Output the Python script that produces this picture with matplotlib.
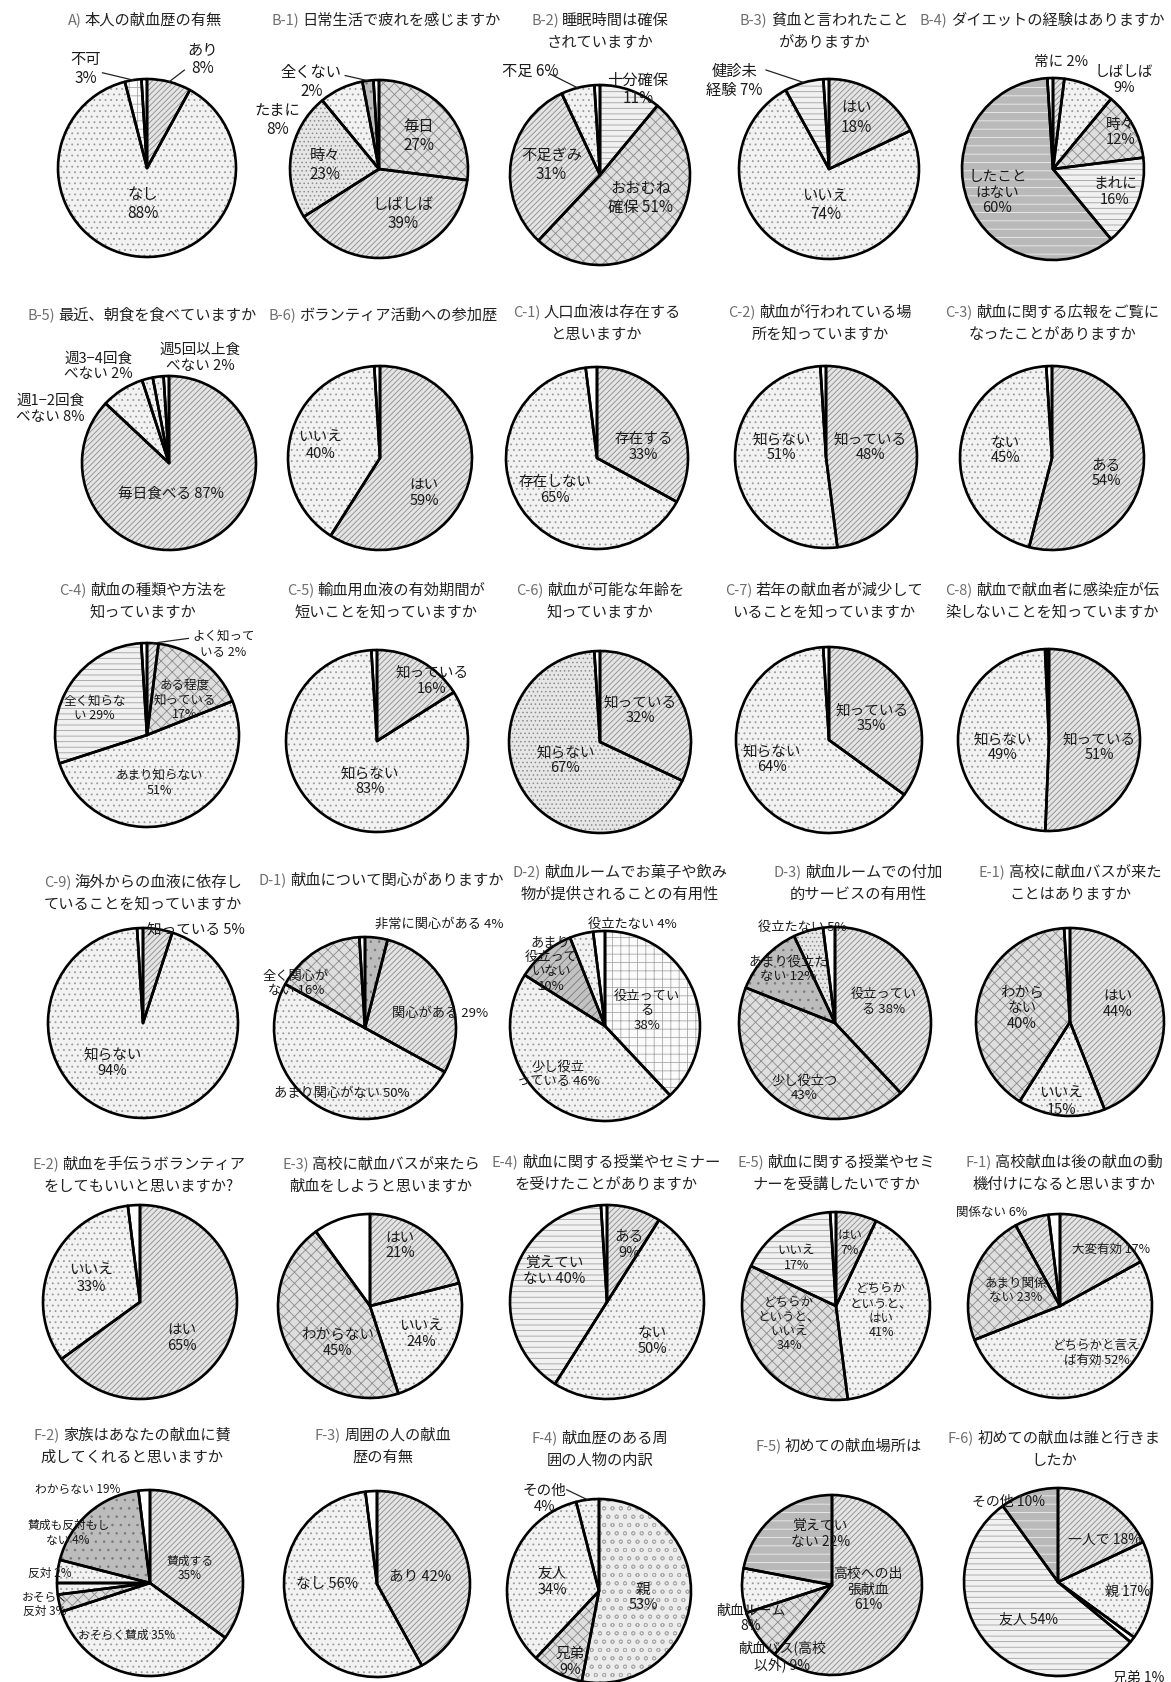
import matplotlib
matplotlib.use("Agg")
import matplotlib.pyplot as plt
import numpy as np

plt.rcParams["font.family"] = ["Noto Sans CJK JP", "DejaVu Sans"]
plt.rcParams["hatch.linewidth"] = 0.6

W, H = 1171, 1682
DPI = 100

# ---------------- data (clockwise from 12 o'clock) ----------------
a_title = "A) 本人の献血歴の有無"
a_names = ["あり\n{}%", "なし\n{}%", "不可\n{}%", ""]
a_values = [8, 88, 3, 1]

b1_title = "B-1) 日常生活で疲れを感じますか"
b1_names = ["毎日\n{}%", "しばしば\n{}%", "時々\n{}%", "たまに\n{}%", "全くない\n{}%", ""]
b1_values = [27, 39, 23, 8, 2, 1]

b2_title = "B-2) 睡眠時間は確保\nされていますか"
b2_names = ["十分確保\n{}%", "おおむね\n確保 {}%", "不足ぎみ\n{}%", "不足 {}%", ""]
b2_values = [11, 51, 31, 6, 1]

b3_title = "B-3) 貧血と言われたこと\nがありますか"
b3_names = ["はい\n{}%", "いいえ\n{}%", "健診未\n経験 {}%", ""]
b3_values = [18, 74, 7, 1]

b4_title = "B-4) ダイエットの経験はありますか"
b4_names = ["常に {}%", "しばしば\n{}%", "時々\n{}%", "まれに\n{}%", "したこと\nはない\n{}%", ""]
b4_values = [2, 9, 12, 16, 60, 1]

b5_title = "B-5) 最近、朝食を食べていますか"
b5_names = ["毎日食べる {}%", "週1−2回食\nべない {}%", "週3−4回食\nべない {}%", "週5回以上食\nべない {}%", ""]
b5_values = [87, 8, 2, 2, 1]

b6_title = "B-6) ボランティア活動への参加歴"
b6_names = ["はい\n{}%", "いいえ\n{}%", ""]
b6_values = [59, 40, 1]

c1_title = "C-1) 人口血液は存在する\nと思いますか"
c1_names = ["存在する\n{}%", "存在しない\n{}%", ""]
c1_values = [33, 65, 2]

c2_title = "C-2) 献血が行われている場\n所を知っていますか"
c2_names = ["知っている\n{}%", "知らない\n{}%", ""]
c2_values = [48, 51, 1]

c3_title = "C-3) 献血に関する広報をご覧に\nなったことがありますか"
c3_names = ["ある\n{}%", "ない\n{}%", ""]
c3_values = [54, 45, 1]

c4_title = "C-4) 献血の種類や方法を\n知っていますか"
c4_names = ["よく知って\nいる {}%", "ある程度\n知っている\n{}%", "あまり知らない\n{}%", "全く知らな\nい {}%", ""]
c4_values = [2, 17, 51, 29, 1]

c5_title = "C-5) 輸血用血液の有効期間が\n短いことを知っていますか"
c5_names = ["知っている\n{}%", "知らない\n{}%", ""]
c5_values = [16, 83, 1]

c6_title = "C-6) 献血が可能な年齢を\n知っていますか"
c6_names = ["知っている\n{}%", "知らない\n{}%", ""]
c6_values = [32, 67, 1]

c7_title = "C-7) 若年の献血者が減少して\nいることを知っていますか"
c7_names = ["知っている\n{}%", "知らない\n{}%", ""]
c7_values = [35, 64, 1]

c8_title = "C-8) 献血で献血者に感染症が伝\n染しないことを知っていますか"
c8_names = ["知っている\n{}%", "知らない\n{}%", ""]
c8_values = [51, 49, 0.7]

c9_title = "C-9) 海外からの血液に依存し\nていることを知っていますか"
c9_names = ["知っている {}%", "知らない\n{}%", ""]
c9_values = [5, 94, 1]

d1_title = "D-1) 献血について関心がありますか"
d1_names = ["非常に関心がある {}%", "関心がある {}%", "あまり関心がない {}%", "全く関心が\nない {}%", ""]
d1_values = [4, 29, 50, 16, 1]

d2_title = "D-2) 献血ルームでお菓子や飲み\n物が提供されることの有用性"
d2_names = ["役立ってい\nる\n{}%", "少し役立\nっている {}%", "あまり\n役立って\nいない\n{}%", "役立たない {}%", ""]
d2_values = [38, 46, 10, 4, 2]

d3_title = "D-3) 献血ルームでの付加\n的サービスの有用性"
d3_names = ["役立ってい\nる {}%", "少し役立つ\n{}%", "あまり役立た\nない {}%", "役立たない {}%", ""]
d3_values = [38, 43, 12, 5, 2]

e1_title = "E-1) 高校に献血バスが来た\nことはありますか"
e1_names = ["はい\n{}%", "いいえ\n{}%", "わから\nない\n{}%", ""]
e1_values = [44, 15, 40, 1]

e2_title = "E-2) 献血を手伝うボランティア\nをしてもいいと思いますか?"
e2_names = ["はい\n{}%", "いいえ\n{}%", ""]
e2_values = [65, 33, 2]

e3_title = "E-3) 高校に献血バスが来たら\n献血をしようと思いますか"
e3_names = ["はい\n{}%", "いいえ\n{}%", "わからない\n{}%", ""]
e3_values = [21, 24, 45, 10]

e4_title = "E-4) 献血に関する授業やセミナー\nを受けたことがありますか"
e4_names = ["ある\n{}%", "ない\n{}%", "覚えてい\nない {}%", ""]
e4_values = [9, 50, 40, 1]

e5_title = "E-5) 献血に関する授業やセミ\nナーを受講したいですか"
e5_names = ["はい\n{}%", "どちらか\nというと、\nはい\n{}%", "どちらか\nというと、\nいいえ\n{}%", "いいえ\n{}%", ""]
e5_values = [7, 41, 34, 17, 1]

f1_title = "F-1) 高校献血は後の献血の動\n機付けになると思いますか"
f1_names = ["大変有効 {}%", "どちらかと言え\nば有効 {}%", "あまり関係\nない {}%", "関係ない {}%", ""]
f1_values = [17, 52, 23, 6, 2]

f2_title = "F-2) 家族はあなたの献血に賛\n成してくれると思いますか"
f2_names = ["賛成する\n{}%", "おそらく賛成 {}%", "おそらく\n反対 {}%", "反対 {}%", "賛成も反対もし\nない {}%", "わからない {}%", ""]
f2_values = [35, 35, 3, 2, 4, 19, 2]

f3_title = "F-3) 周囲の人の献血\n歴の有無"
f3_names = ["あり {}%", "なし {}%", ""]
f3_values = [42, 56, 2]

f4_title = "F-4) 献血歴のある周\n囲の人物の内訳"
f4_names = ["親\n{}%", "兄弟\n{}%", "友人\n{}%", "その他\n{}%"]
f4_values = [53, 9, 34, 4]

f5_title = "F-5) 初めての献血場所は"
f5_names = ["高校への出\n張献血\n{}%", "献血バス(高校\n以外) {}%", "献血ルーム\n{}%", "覚えてい\nない {}%"]
f5_values = [61, 9, 8, 22]

f6_title = "F-6) 初めての献血は誰と行きま\nしたか"
f6_names = ["一人で {}%", "親 {}%", "兄弟 {}%", "友人 {}%", "その他 {}%"]
f6_values = [18, 17, 1, 54, 10]

charts = [
    (a_title, a_names, a_values), (b1_title, b1_names, b1_values),
    (b2_title, b2_names, b2_values), (b3_title, b3_names, b3_values),
    (b4_title, b4_names, b4_values), (b5_title, b5_names, b5_values),
    (b6_title, b6_names, b6_values), (c1_title, c1_names, c1_values),
    (c2_title, c2_names, c2_values), (c3_title, c3_names, c3_values),
    (c4_title, c4_names, c4_values), (c5_title, c5_names, c5_values),
    (c6_title, c6_names, c6_values), (c7_title, c7_names, c7_values),
    (c8_title, c8_names, c8_values), (c9_title, c9_names, c9_values),
    (d1_title, d1_names, d1_values), (d2_title, d2_names, d2_values),
    (d3_title, d3_names, d3_values), (e1_title, e1_names, e1_values),
    (e2_title, e2_names, e2_values), (e3_title, e3_names, e3_values),
    (e4_title, e4_names, e4_values), (e5_title, e5_names, e5_values),
    (f1_title, f1_names, f1_values), (f2_title, f2_names, f2_values),
    (f3_title, f3_names, f3_values), (f4_title, f4_names, f4_values),
    (f5_title, f5_names, f5_values), (f6_title, f6_names, f6_values),
]

# ---------------- styles / layout ----------------
# fill name -> (face colour, hatch, hatch colour)
FILLS = {
    "diag": ("#e4e4e4", "//////", "#8c8c8c"),
    "dot": ("#f2f2f2", "...", "#9a9a9a"),
    "fdot": ("#e6e6e6", "....", "#8c8c8c"),
    "lat": ("#dedede", "xxx", "#8c8c8c"),
    "dash": ("#f1f1f1", "---", "#a0a0a0"),
    "grid": ("#fbfbfb", "++", "#a8a8a8"),
    "dark": ("#bcbcbc", "..", "#7a7a7a"),
    "darkdash": ("#b9b9b9", "--", "#eeeeee"),
    "darkdiag": ("#c2c2c2", "////", "#7a7a7a"),
    "wave": ("#ececec", "oo", "#ababab"),
    "white": ("#ffffff", "", "#ffffff"),
    "black": ("#111111", "", "#111111"),
}

styles = [
    ["diag", "dot", "grid", "white"],
    ["lat", "diag", "fdot", "dot", "dark", "white"],
    ["dash", "lat", "diag", "dot", "white"],
    ["diag", "dot", "dash", "white"],
    ["diag", "dot", "lat", "dash", "darkdash", "white"],
    ["diag", "dot", "dot", "dot", "white"],
    ["diag", "dot", "white"],
    ["diag", "dot", "white"],
    ["diag", "dot", "white"],
    ["diag", "dot", "white"],
    ["diag", "lat", "dot", "dash", "white"],
    ["diag", "dot", "white"],
    ["diag", "fdot", "white"],
    ["diag", "dot", "white"],
    ["diag", "dot", "black"],
    ["diag", "dot", "white"],
    ["dark", "diag", "dot", "lat", "white"],
    ["grid", "dot", "darkdiag", "dot", "white"],
    ["diag", "lat", "dark", "fdot", "white"],
    ["diag", "dot", "lat", "white"],
    ["diag", "dot", "white"],
    ["diag", "dot", "lat", "white"],
    ["diag", "dot", "dash", "white"],
    ["diag", "dot", "lat", "dash", "white"],
    ["diag", "dot", "lat", "diag", "white"],
    ["diag", "dot", "lat", "dot", "dot", "dark", "white"],
    ["diag", "dot", "white"],
    ["wave", "lat", "dot", "dot"],
    ["diag", "lat", "dot", "darkdash"],
    ["diag", "dot", "white", "dash", "darkdash"],
]

# centre x, centre y (px from top), radius, title x, title baseline, label font size
layout = [
    (147, 168, 89, 145, 25, 11), (379, 169, 89, 386, 25, 11),
    (600, 175, 90, 600, 25, 11), (829, 169, 90, 824, 25, 11),
    (1053, 169, 91, 1042, 25, 10.5),
    (169, 463, 87, 142, 320, 10.5), (380, 458, 92, 383, 320, 10.5),
    (597, 458, 91, 597, 317, 10.5), (826, 457, 91, 820, 317, 10.5),
    (1052, 458, 92, 1052, 317, 10.5),
    (147, 735, 92, 143, 595, 9), (377, 741, 91, 386, 595, 10.5),
    (600, 742, 91, 600, 595, 10.5), (829, 740, 93, 824, 595, 10.5),
    (1049, 740, 91, 1052, 595, 10.5),
    (143, 1023, 95, 143, 887, 10.5), (365, 1028, 91, 381, 885, 9.5),
    (605, 1026, 95, 620, 877, 9.5), (835, 1023, 96, 858, 877, 9.5),
    (1070, 1022, 94, 1070, 877, 10.5),
    (140, 1302, 97, 139, 1169, 10.5), (370, 1306, 92, 381, 1169, 10.5),
    (607, 1302, 97, 606, 1167, 10.5), (836, 1306, 94, 836, 1167, 9),
    (1060, 1306, 92, 1064, 1167, 9),
    (150, 1583, 93, 132, 1440, 8.5), (377, 1584, 93, 383, 1440, 10.5),
    (599, 1591, 92, 600, 1443, 10.5), (832, 1585, 90, 839, 1451, 10),
    (1058, 1582, 94, 1054, 1443, 10),
]

# label centres in radius units (x right, y up)
label_pos = [
    [(0.63, 1.22), (-0.05, -0.40), (-0.69, 1.11), None],
    [(0.45, 0.37), (0.27, -0.51), (-0.61, 0.04), (-1.14, 0.55), (-0.76, 0.98), None],
    [(0.42, 0.95), (0.45, -0.26), (-0.54, 0.11), (-0.77, 1.15), None],
    [(0.30, 0.57), (-0.04, -0.40), (-1.05, 0.98), None],
    [(0.09, 1.18), (0.78, 0.98), (0.74, 0.40), (0.68, -0.25), (-0.61, -0.26), None],
    [(0.02, -0.35), (-1.36, 0.62), (-0.81, 1.11), (0.36, 1.21), None],
    [(0.48, -0.38), (-0.65, 0.13), None],
    [(0.51, 0.12), (-0.46, -0.35), None],
    [(0.49, 0.11), (-0.49, 0.11), None],
    [(0.59, -0.17), (-0.51, 0.08), None],
    [(0.83, 0.99), (0.41, 0.38), (0.13, -0.52), (-0.57, 0.29), None],
    [(0.60, 0.66), (-0.08, -0.44), None],
    [(0.44, 0.35), (-0.38, -0.20), None],
    [(0.46, 0.23), (-0.61, -0.21), None],
    [(0.55, -0.08), (-0.51, -0.08), None],
    [(0.56, 0.98), (-0.32, -0.42), None],
    [(0.82, 1.14), (0.82, 0.16), (-0.26, -0.72), (-0.76, 0.49), None],
    [(0.44, 0.16), (-0.49, -0.51), (-0.57, 0.65), (0.29, 1.07), None],
    [(0.51, 0.22), (-0.32, -0.68), (-0.49, 0.56), (-0.34, 0.99), None],
    [(0.51, 0.19), (-0.09, -0.85), (-0.51, 0.15), None],
    [(0.43, -0.37), (-0.50, 0.24), None],
    [(0.33, 0.66), (0.56, -0.31), (-0.35, -0.40), None],
    [(0.23, 0.59), (0.47, -0.40), (-0.54, 0.32), None],
    [(0.15, 0.67), (0.48, -0.05), (-0.50, -0.19), (-0.42, 0.51), None],
    [(0.56, 0.62), (0.40, -0.51), (-0.48, 0.17), (-0.74, 1.02), None],
    [(0.43, 0.16), (-0.25, -0.56), (-1.13, -0.23), (-1.08, 0.10), (-0.88, 0.54), (-0.78, 1.01), None],
    [(0.46, 0.08), (-0.54, 0.0), None],
    [(0.48, -0.07), (-0.31, -0.77), (-0.51, 0.10), (-0.59, 1.0)],
    [(0.40, -0.05), (-0.55, -0.79), (-0.90, -0.37), (-0.13, 0.57)],
    [(0.49, 0.45), (0.74, -0.11), (0.86, -1.02), (-0.31, -0.40), (-0.53, 0.85)],
]

# leader lines: chart index -> {slice index: start point in radius units}
leaders = {
    0: {0: (0.42, 1.10), 2: (-0.50, 1.07)},
    1: {4: (-0.38, 1.05)},
    2: {3: (-0.55, 1.12)},
    3: {2: (-0.70, 1.10)},
    10: {0: (0.45, 1.05)},
    27: {3: (-0.35, 1.10)},
}

TITLE_FS = 11
PREFIX_FS = 10.5
TITLE_LINE = 21.5

fig = plt.figure(figsize=(W / DPI, H / DPI), dpi=DPI)
ax = fig.add_axes([0, 0, 1, 1])
ax.set_xlim(0, W)
ax.set_ylim(0, H)
renderer = fig.canvas.get_renderer()


def text_width(s, fs):
    t = ax.text(0, 0, s, fontsize=fs)
    w = t.get_window_extent(renderer).width
    t.remove()
    return w


def draw_title(tx, base, title):
    lines = title.split("\n")
    prefix, body = lines[0].split(" ", 1)
    wp = text_width(prefix + " ", PREFIX_FS)
    wb = text_width(body, TITLE_FS)
    left = tx - (wp + wb) / 2
    ax.text(left, H - base, prefix, fontsize=PREFIX_FS, ha="left",
            va="baseline", color="#6e6e6e")
    ax.text(left + wp, H - base, body, fontsize=TITLE_FS, ha="left",
            va="baseline", color="#222222")
    for k, ln in enumerate(lines[1:], start=1):
        ax.text(tx, H - base - k * TITLE_LINE, ln, fontsize=TITLE_FS,
                ha="center", va="baseline", color="#222222")


for i, ((title, names, values), (cx, cy, r, tx, ty, fs)) in enumerate(zip(charts, layout)):
    cy = H - cy
    wedges, _ = ax.pie(values, startangle=90, counterclock=False,
                       center=(cx, cy), radius=r, wedgeprops=dict(linewidth=0))
    for w, st in zip(wedges, styles[i]):
        fc, hatch, hc = FILLS[st]
        w.set_facecolor(fc)
        w.set_edgecolor(hc)
        w.set_hatch(hatch)
    # outlines on top
    ax.pie(values, startangle=90, counterclock=False, center=(cx, cy), radius=r,
           wedgeprops=dict(fill=False, edgecolor="black", linewidth=1.9,
                           joinstyle="round"))

    for j, (name, v) in enumerate(zip(names, values)):
        pos = label_pos[i][j]
        if not name or pos is None:
            continue
        ax.text(cx + pos[0] * r, cy + pos[1] * r, name.format(v),
                ha="center", va="center", fontsize=fs, linespacing=1.15,
                color="#1a1a1a")

    for j, (sx, sy) in leaders.get(i, {}).items():
        w = wedges[j]
        mid = np.deg2rad((w.theta1 + w.theta2) / 2)
        ax.plot([cx + sx * r, cx + r * np.cos(mid)],
                [cy + sy * r, cy + r * np.sin(mid)], color="#222222", lw=0.9)

    draw_title(tx, ty, title)

ax.set_xlim(0, W)
ax.set_ylim(0, H)
ax.axis("off")
fig.savefig("out.png", dpi=DPI)
